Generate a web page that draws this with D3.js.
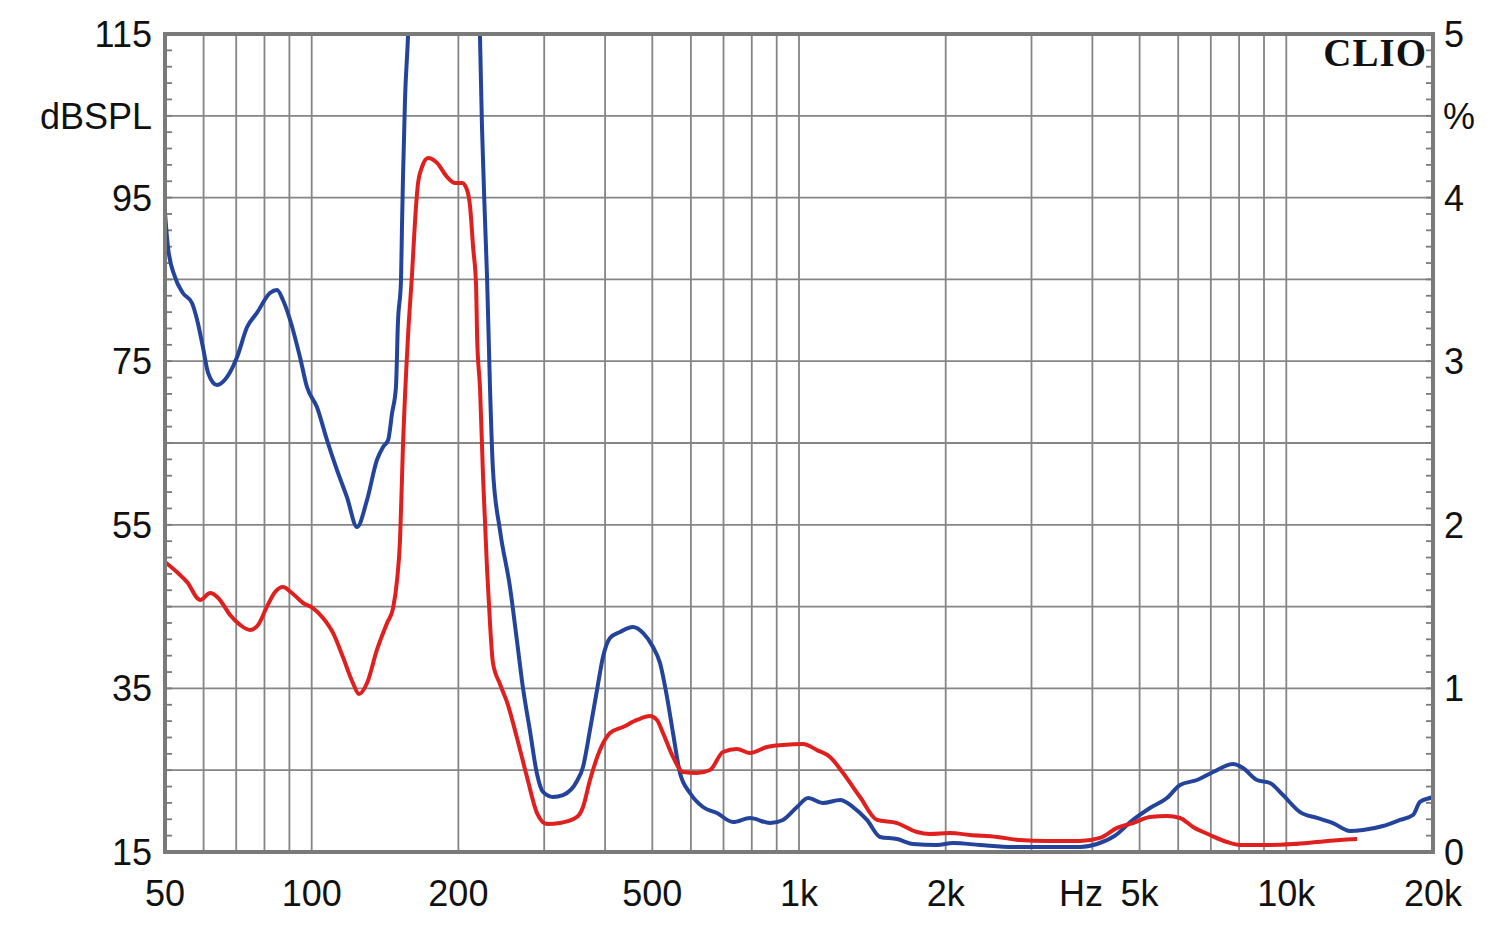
<!DOCTYPE html>
<html>
<head>
<meta charset="utf-8">
<script src="https://cdn.jsdelivr.net/npm/d3@7"></script>
<style>
  html, body { margin: 0; padding: 0; background: #ffffff; }
  svg { display: block; }
</style>
</head>
<body>
<svg id="chart" width="1500" height="929"></svg>
<script>
// ---------------- DATA ----------------
// Frequencies (Hz) and values (%, right axis)
const blueFreq = [50, 50.7, 52.4, 54.4, 56.8, 58.2, 59.8, 61.3, 63.9, 67.0, 70.3, 73.7, 77.2, 82.1, 84.9, 87.3, 90.3, 94.6, 97.8, 102.5, 107.5, 112.7, 118.1, 123.9, 129.9, 136.1, 140.1, 143.5, 146.2, 148.9, 150.3, 152.5, 153.2, 153.9, 155.4, 157.6, 160, 190, 219, 221.5, 223.6, 226.8, 229.0, 232.2, 235.5, 243.4, 255.2, 263.8, 271.4, 280.5, 290.0, 298.3, 312.7, 327.9, 350.3, 360.4, 372.5, 385.0, 396.1, 409.4, 429.2, 456.3, 478.4, 501.6, 518.5, 536.0, 551.4, 569.9, 597.5, 635.3, 678.8, 732.4, 793.6, 872.1, 927.1, 990.7, 1043.6, 1120.3, 1214.2, 1290.9, 1378.9, 1466.4, 1589.3, 1713.8, 1919.4, 2070.7, 2351.8, 2749.6, 3227.5, 3772.7, 4089.5, 4452, 4845, 5250, 5690, 6052, 6559, 7075, 7776, 8152, 8706, 9257, 9845, 10672, 11564, 12473, 13513, 14367, 15794, 17115, 18196, 18806, 19714, 20000];
const blueVal = [3.906, 3.698, 3.515, 3.417, 3.356, 3.252, 3.087, 2.928, 2.855, 2.903, 3.026, 3.209, 3.295, 3.417, 3.435, 3.374, 3.252, 3.026, 2.842, 2.720, 2.518, 2.335, 2.170, 1.987, 2.152, 2.396, 2.476, 2.518, 2.683, 2.842, 3.234, 3.496, 3.820, 4.108, 4.597, 4.982, 5.6, 7.5, 5.5, 4.982, 4.431, 3.863, 3.515, 2.842, 2.335, 1.968, 1.620, 1.290, 1.002, 0.740, 0.477, 0.367, 0.336, 0.348, 0.434, 0.520, 0.746, 0.990, 1.192, 1.308, 1.345, 1.375, 1.339, 1.253, 1.155, 0.947, 0.727, 0.483, 0.361, 0.275, 0.238, 0.183, 0.208, 0.177, 0.196, 0.275, 0.330, 0.300, 0.318, 0.275, 0.196, 0.092, 0.079, 0.049, 0.043, 0.055, 0.043, 0.031, 0.031, 0.031, 0.049, 0.100, 0.196, 0.269, 0.330, 0.410, 0.440, 0.489, 0.538, 0.513, 0.440, 0.422, 0.348, 0.244, 0.208, 0.177, 0.128, 0.134, 0.159, 0.196, 0.226, 0.306, 0.330, 0.336];

const redFreq = [50, 52.9, 55.7, 58.2, 59.0, 61.9, 64.3, 68.0, 71.3, 74.7, 77.6, 80.9, 84.1, 87.3, 91.1, 96.0, 100.6, 105.5, 110.6, 115.9, 121.5, 125.0, 129.9, 136.1, 142.8, 146.9, 149.7, 151.8, 153.9, 157.6, 160.7, 163.0, 165.3, 168.4, 173.3, 180.8, 189.6, 196.9, 203.5, 208.4, 211.4, 214.4, 217.5, 218.5, 221.6, 224.8, 229.0, 232.2, 235.5, 243.4, 251.6, 263.8, 276.6, 290.0, 304.0, 323.3, 350.3, 360.4, 372.5, 390.4, 409.4, 435.4, 465.1, 494.6, 511.1, 526.0, 551.4, 578.1, 617.6, 656.8, 698.2, 745.7, 793.6, 859.8, 927.1, 1019.2, 1088.9, 1157.6, 1231.4, 1334.3, 1445.7, 1589.3, 1746.5, 1857.2, 2041.4, 2243.3, 2548.6, 2842, 3227.5, 3772.7, 4147.5, 4494, 4845, 5250, 5690, 6052, 6435, 6974, 7559, 8035, 9128, 10324, 11564, 12891, 13971];
const redVal = [1.773, 1.711, 1.644, 1.553, 1.540, 1.583, 1.553, 1.449, 1.388, 1.357, 1.388, 1.498, 1.589, 1.620, 1.583, 1.522, 1.491, 1.430, 1.339, 1.192, 1.033, 0.966, 1.033, 1.235, 1.400, 1.491, 1.663, 1.907, 2.476, 3.148, 3.539, 3.863, 4.089, 4.187, 4.242, 4.212, 4.126, 4.089, 4.089, 4.046, 3.943, 3.698, 3.454, 3.148, 2.824, 2.280, 1.730, 1.400, 1.155, 1.027, 0.917, 0.697, 0.458, 0.238, 0.171, 0.177, 0.214, 0.275, 0.440, 0.623, 0.727, 0.764, 0.807, 0.831, 0.807, 0.727, 0.581, 0.489, 0.483, 0.501, 0.611, 0.630, 0.605, 0.642, 0.654, 0.660, 0.623, 0.581, 0.483, 0.336, 0.196, 0.177, 0.122, 0.110, 0.116, 0.104, 0.092, 0.073, 0.067, 0.067, 0.086, 0.147, 0.177, 0.214, 0.220, 0.208, 0.153, 0.104, 0.061, 0.043, 0.043, 0.049, 0.061, 0.073, 0.079];

// Axes / grid
const gridFreqs = [60, 70, 80, 90, 100, 200, 300, 400, 500, 600, 700, 800, 900, 1000, 2000, 3000, 4000, 5000, 6000, 7000, 8000, 9000, 10000];
const xTickValues = [50, 100, 200, 500, 1000, 2000, 5000, 10000, 20000];
const xTickLabels = ["50", "100", "200", "500", "1k", "2k", "5k", "10k", "20k"];
const leftTicks = [15, 35, 55, 75, 95, 115];
const leftGrid = [25, 35, 45, 55, 65, 75, 85, 95, 105];
const rightTicks = [0, 1, 2, 3, 4, 5];

// ---------------- DRAWING ----------------
const svg = d3.select("#chart");
const L = 165, R = 1433, T = 34, B = 852;

const x = d3.scaleLog().domain([50, 20000]).range([L, R]);
const yL = d3.scaleLinear().domain([15, 115]).range([B, T]);
const yR = d3.scaleLinear().domain([0, 5]).range([B, T]);

const gridColor = "#858585";
const frameColor = "#7a7a7a";
const font = "'Liberation Sans', Arial, sans-serif";
const fs = 36;

// grid
const g = svg.append("g");
g.selectAll("line.v").data(gridFreqs).join("line")
  .attr("x1", d => x(d)).attr("x2", d => x(d))
  .attr("y1", T).attr("y2", B)
  .attr("stroke", gridColor).attr("stroke-width", 1.8);
g.selectAll("line.h").data(leftGrid).join("line")
  .attr("class", "h")
  .attr("x1", L).attr("x2", R)
  .attr("y1", d => yL(d)).attr("y2", d => yL(d))
  .attr("stroke", gridColor).attr("stroke-width", 1.8);

// minor ticks left & right (every 2 dB)
const minor = d3.range(17, 115, 2);
g.selectAll("line.ml").data(minor).join("line")
  .attr("x1", L).attr("x2", L + 7)
  .attr("y1", d => yL(d)).attr("y2", d => yL(d))
  .attr("stroke", frameColor).attr("stroke-width", 1.8);
g.selectAll("line.mr").data(minor).join("line")
  .attr("x1", R - 7).attr("x2", R)
  .attr("y1", d => yL(d)).attr("y2", d => yL(d))
  .attr("stroke", frameColor).attr("stroke-width", 1.8);

// clip
svg.append("clipPath").attr("id", "clip")
  .append("rect").attr("x", L).attr("y", T).attr("width", R - L).attr("height", B - T);

const line = d3.line()
  .x(d => x(d[0])).y(d => yR(d[1]))
  .curve(d3.curveMonotoneX);

const blueData = blueFreq.map((f, i) => [f, blueVal[i]]);
const redData = redFreq.map((f, i) => [f, redVal[i]]);

const curves = svg.append("g").attr("clip-path", "url(#clip)");
curves.append("path").datum(blueData)
  .attr("d", line).attr("fill", "none")
  .attr("stroke", "#24449c").attr("stroke-width", 4)
  .attr("stroke-linejoin", "round");
curves.append("path").datum(redData)
  .attr("d", line).attr("fill", "none")
  .attr("stroke", "#e0201e").attr("stroke-width", 4)
  .attr("stroke-linejoin", "round");

// frame
svg.append("rect").attr("x", L).attr("y", T).attr("width", R - L).attr("height", B - T)
  .attr("fill", "none").attr("stroke", frameColor).attr("stroke-width", 4);

// left labels
svg.selectAll("text.yl").data(leftTicks).join("text")
  .attr("x", 152).attr("y", d => yL(d))
  .attr("dy", "0.36em")
  .attr("text-anchor", "end")
  .attr("font-family", font).attr("font-size", fs).attr("fill", "#111")
  .text(d => d);
svg.append("text").attr("x", 152).attr("y", yL(105)).attr("dy", "0.36em")
  .attr("text-anchor", "end").attr("font-family", font).attr("font-size", fs).attr("fill", "#111")
  .text("dBSPL");

// right labels
svg.selectAll("text.yr").data(rightTicks).join("text")
  .attr("x", 1444).attr("y", d => yR(d))
  .attr("dy", "0.36em")
  .attr("text-anchor", "start")
  .attr("font-family", font).attr("font-size", fs).attr("fill", "#111")
  .text(d => d);
svg.append("text").attr("x", 1443).attr("y", yR(4.5)).attr("dy", "0.36em")
  .attr("text-anchor", "start").attr("font-family", font).attr("font-size", fs).attr("fill", "#111")
  .text("%");

// bottom labels
svg.selectAll("text.xl").data(xTickValues).join("text")
  .attr("x", d => x(d)).attr("y", 893).attr("dy", "0.36em")
  .attr("text-anchor", "middle")
  .attr("font-family", font).attr("font-size", fs).attr("fill", "#111")
  .text((d, i) => xTickLabels[i]);
svg.append("text").attr("x", 1081).attr("y", 893).attr("dy", "0.36em")
  .attr("text-anchor", "middle").attr("font-family", font).attr("font-size", fs).attr("fill", "#111")
  .text("Hz");

// CLIO logo
svg.append("text").attr("x", 1427).attr("y", 66)
  .attr("text-anchor", "end")
  .attr("font-family", "'Liberation Serif', 'DejaVu Serif', serif")
  .attr("font-weight", "bold").attr("font-size", 39).attr("fill", "#111")
  .attr("letter-spacing", 1)
  .text("CLIO");
</script>
</body>
</html>
